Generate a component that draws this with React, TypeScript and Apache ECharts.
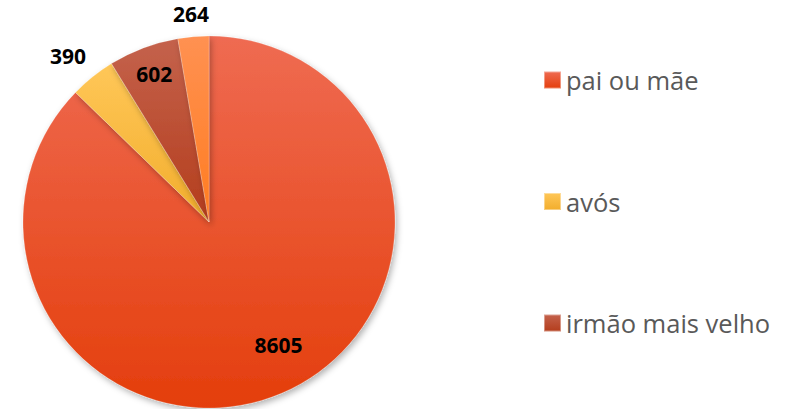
import React, { useEffect, useRef } from "react";
import * as echarts from "echarts";

const categories = ["pai ou mãe", "avós", "irmão mais velho", "outros"];
const values = [8605, 390, 602, 264];
const legendNames = ["pai ou mãe", "avós", "irmão mais velho"];

const grad = (top: string, bottom: string) =>
  new echarts.graphic.LinearGradient(0, 0, 0, 1, [
    { offset: 0, color: top },
    { offset: 1, color: bottom },
  ]);

const colorPairs: [string, string][] = [
  ["#EF6B52", "#E43E0C"],
  ["#FFC758", "#F2AD2C"],
  ["#C4624C", "#B43D1C"],
  ["#FF9152", "#FF7C20"],
];

const labelOffsets: [number, number][] = [
  [32, 35],
  [-81, -91],
  [-21, -58],
  [-10, -112],
];

export default function App() {
  const ref = useRef<HTMLDivElement>(null);
  useEffect(() => {
    if (!ref.current) return;
    const chart = echarts.init(ref.current, null, { renderer: "svg" });
    chart.setOption({
      animation: false,
      backgroundColor: "#ffffff",
      legend: {
        data: legendNames,
        orient: "vertical",
        left: 543,
        top: 67,
        padding: 0,
        itemWidth: 17,
        itemHeight: 17,
        itemGap: 95.5,
        icon: "rect",
        textStyle: {
          fontFamily: "Open Sans",
          fontSize: 25.5,
          color: "#595959",
          lineHeight: 26,
        },
      },
      series: [
        {
          type: "pie",
          center: [209, 222],
          radius: 186,
          startAngle: 90,
          clockwise: true,
          avoidLabelOverlap: false,
          labelLine: { show: false },
          itemStyle: {
            borderColor: "rgba(255,255,255,0.4)",
            borderWidth: 0.5,
            shadowBlur: 6,
            shadowOffsetX: 2,
            shadowOffsetY: 3,
            shadowColor: "rgba(0,0,0,0.3)",
          },
          emphasis: { disabled: true },
          data: categories.map((name, i) => ({
            name,
            value: values[i],
            itemStyle: { color: grad(colorPairs[i][0], colorPairs[i][1]) },
            label: {
              show: true,
              position: "inside",
              formatter: "{c}",
              offset: labelOffsets[i],
              fontFamily: "Open Sans",
              fontWeight: "bold",
              fontSize: 21,
              color: "#000000",
            },
          })),
        },
      ],
    });
    return () => chart.dispose();
  }, []);
  return (
    <div
      ref={ref}
      style={{ position: "fixed", left: 0, top: 0, width: 789, height: 409 }}
    />
  );
}
